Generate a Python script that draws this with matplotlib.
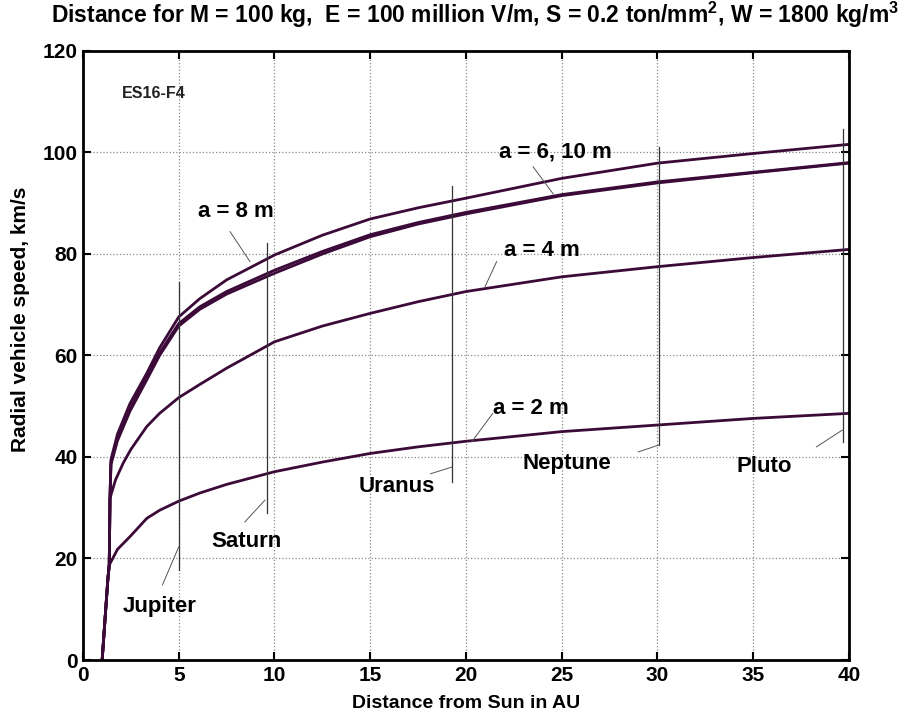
import matplotlib
matplotlib.use("Agg")
import matplotlib.pyplot as plt

plt.rcParams['font.family'] = ['Liberation Sans', 'DejaVu Sans']
plt.rcParams['font.weight'] = 'bold'
plt.rcParams['mathtext.fontset'] = 'custom'
plt.rcParams['mathtext.bf'] = 'Liberation Sans:bold'
plt.rcParams['mathtext.rm'] = 'Liberation Sans:bold'

# Shared steep start (all curves)
x_start = [1.0, 1.15, 1.3, 1.37]
y_start = [0.0, 8.0, 16.0, 18.7]

# a = 2 m
x_a2 = [1.37, 1.8, 2.45, 3.33, 4.0, 5.0, 6.1, 7.5, 10, 12.5, 15, 17.5, 20, 25, 30, 35, 40]
y_a2 = [18.7, 21.8, 24.3, 27.9, 29.5, 31.3, 32.9, 34.6, 37.1, 39.0, 40.7, 42.0, 43.1, 45.0, 46.3, 47.6, 48.6]

# a = 4 m
x_a4 = [1.37, 1.41, 1.7, 2.1, 2.5, 3.33, 4.0, 5.0, 6.1, 7.5, 10, 12.5, 15, 17.5, 20, 25, 30, 35, 40]
y_a4 = [18.7, 31.9, 35.5, 38.8, 41.5, 46.0, 48.6, 51.7, 54.3, 57.5, 62.7, 65.8, 68.3, 70.6, 72.6, 75.5, 77.5, 79.3, 80.9]

# a = 8 m (top)
x_a8 = [1.37, 1.41, 1.46, 1.8, 2.45, 3.33, 4.0, 5.0, 6.1, 7.5, 10, 12.5, 15, 17.5, 20, 25, 30, 35, 40]
y_a8 = [18.7, 31.9, 39.5, 44.5, 50.5, 56.5, 61.5, 67.6, 71.2, 74.9, 79.8, 83.7, 86.9, 89.1, 91.0, 94.9, 97.9, 99.8, 101.6]

# a = 6 m
x_a6 = [1.37, 1.41, 1.46, 1.8, 2.45, 3.33, 4.0, 5.0, 6.1, 7.5, 10, 12.5, 15, 17.5, 20, 25, 30, 35, 40]
y_a6 = [18.7, 31.9, 39.0, 43.8, 49.5, 55.8, 60.5, 66.3, 69.6, 72.6, 76.8, 80.5, 83.8, 86.2, 88.2, 91.7, 94.2, 96.1, 98.0]

# a = 10 m
x_a10 = [1.37, 1.41, 1.46, 1.8, 2.45, 3.33, 4.0, 5.0, 6.1, 7.5, 10, 12.5, 15, 17.5, 20, 25, 30, 35, 40]
y_a10 = [18.7, 31.9, 38.5, 43.2, 49.0, 55.2, 60.0, 65.8, 69.1, 72.1, 76.2, 80.0, 83.4, 85.9, 87.9, 91.5, 94.0, 96.0, 97.9]

# planet marker lines
planets = ["Jupiter", "Saturn", "Uranus", "Neptune", "Pluto"]
planet_x = [5.0, 9.62, 19.25, 30.1, 39.7]
planet_top = [74.5, 82.1, 93.3, 101.0, 104.7]
planet_bot = [17.7, 29.0, 35.1, 42.4, 43.0]
label_x = [4.0, 8.55, 16.4, 25.25, 35.6]
label_y = [10.5, 23.3, 34.2, 38.7, 38.1]
lead_x0 = [4.15, 8.45, 18.15, 29.0, 38.3]
lead_y0 = [14.8, 27.2, 36.7, 41.0, 42.0]
lead_x1 = [5.0, 9.5, 19.25, 30.1, 39.65]
lead_y1 = [22.3, 31.5, 38.0, 42.4, 45.3]

curve_color = '#3b0a38'
ann_size = 16

fig = plt.figure(figsize=(9.13, 7.21), dpi=100)
ax = fig.add_axes([0.0909, 0.0846, 0.839, 0.8447])

for xs, ys in [(x_a2, y_a2), (x_a4, y_a4), (x_a6, y_a6), (x_a10, y_a10), (x_a8, y_a8)]:
    ax.plot(x_start + xs[1:], y_start + ys[1:], color=curve_color, lw=2.0, solid_joinstyle='round')

for i in range(len(planets)):
    ax.plot([planet_x[i], planet_x[i]], [planet_bot[i], planet_top[i]], color='#333333', lw=0.9)
    ax.plot([lead_x0[i], lead_x1[i]], [lead_y0[i], lead_y1[i]], color='#555555', lw=0.7)
    ax.text(label_x[i], label_y[i], planets[i], fontsize=ann_size, fontweight='bold',
            ha='center', va='center')

# curve labels with leader lines
ax.text(8.0, 88.3, "a = 8 m", fontsize=ann_size, fontweight='bold', ha='center', va='center')
ax.plot([7.68, 8.72], [84.4, 78.5], color='#555555', lw=0.7)
ax.text(24.65, 100.0, "a = 6, 10 m", fontsize=ann_size, fontweight='bold', ha='center', va='center')
ax.plot([23.5, 24.56], [97.2, 91.8], color='#555555', lw=0.7)
ax.text(23.95, 80.6, "a = 4 m", fontsize=ann_size, fontweight='bold', ha='center', va='center')
ax.plot([21.6, 21.0], [78.5, 73.6], color='#555555', lw=0.7)
ax.text(23.4, 49.6, "a = 2 m", fontsize=ann_size, fontweight='bold', ha='center', va='center')
ax.plot([21.4, 20.3], [48.6, 43.0], color='#555555', lw=0.7)

ax.text(3.67, 111.7, "ES16-F4", fontsize=11.5, fontweight='bold', ha='center', va='center',
        color='#222222')

ax.set_xlim(0, 40)
ax.set_ylim(0, 120)
ax.set_xticks(range(0, 41, 5))
ax.set_yticks(range(0, 121, 20))
ax.grid(True, color='#888888', linestyle=':', lw=0.9)
ax.tick_params(direction='in', top=True, right=True, length=6, width=1.5, labelsize=15, pad=4)
for lbl in ax.get_xticklabels() + ax.get_yticklabels():
    lbl.set_fontweight('bold')
for sp in ax.spines.values():
    sp.set_linewidth(2.0)

ax.set_xlabel("Distance from Sun in AU", fontsize=14, fontweight='bold')
ax.set_ylabel("Radial vehicle speed, km/s", fontsize=15, fontweight='bold')
ax.xaxis.set_label_coords(0.5, -0.058)
ax.yaxis.set_label_coords(-0.069, 0.56)
fig.text(0.52, 1 - 23 / 721,
         r"Distance for M = 100 kg,  E = 100 million V/m, S = 0.2 ton/mm$^\mathbf{2}$, W = 1800 kg/m$^\mathbf{3}$",
         fontsize=16.5, fontweight='bold', ha='center', va='baseline')

fig.savefig("out.png", dpi=100)
